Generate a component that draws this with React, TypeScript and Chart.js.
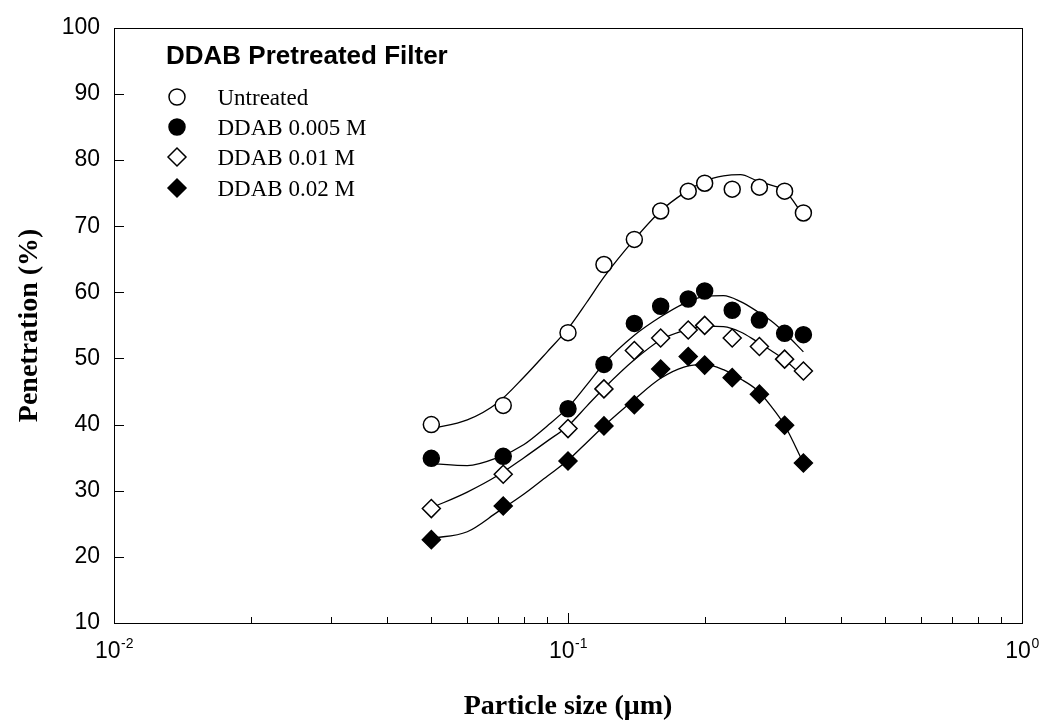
import React, { useEffect, useRef } from "react";
import { Chart, registerables } from "chart.js";

Chart.register(...registerables);

// Measured particle sizes (µm) and penetration (%)
const sizes = [0.05, 0.072, 0.1, 0.12, 0.14, 0.16, 0.184, 0.2, 0.23, 0.264, 0.3, 0.33];
const untreated = [40.0, 42.9, 53.9, 64.2, 68.0, 72.3, 75.3, 76.5, 75.6, 75.9, 75.3, 72.0];
const ddab005 = [34.9, 35.2, 42.4, 49.1, 55.3, 57.9, 59.0, 60.2, 57.3, 55.8, 53.8, 53.6];
const ddab001 = [27.3, 32.5, 39.4, 45.4, 51.2, 53.1, 54.3, 55.0, 53.1, 51.8, 49.9, 48.1];
const ddab002 = [22.6, 27.7, 34.5, 39.8, 43.0, 48.4, 50.3, 49.0, 47.1, 44.6, 39.9, 34.2];

// Fitted curves
const fitSizes = [0.05, 0.06, 0.07, 0.08, 0.09, 0.1, 0.11, 0.12, 0.14, 0.16, 0.18, 0.2, 0.22, 0.24, 0.26, 0.28, 0.3, 0.33];
const untreatedFit = [39.4, 40.7, 43.3, 47.2, 51.0, 54.5, 58.5, 62.3, 68.0, 72.3, 75.0, 76.8, 77.6, 77.8, 76.9, 76.2, 75.4, 71.6];
const ddab005Fit = [34.1, 33.8, 35.0, 37.0, 39.8, 42.6, 46.0, 49.2, 53.5, 56.3, 58.3, 59.4, 59.5, 58.6, 57.2, 55.7, 53.9, 51.0];
const ddab001Fit = [27.4, 29.8, 32.3, 35.0, 37.5, 39.8, 42.8, 45.5, 49.8, 52.8, 54.2, 54.9, 54.8, 54.0, 52.6, 51.2, 49.8, 47.2];
const ddab002Fit = [22.8, 23.8, 26.8, 29.5, 32.2, 34.6, 37.3, 39.8, 43.8, 47.0, 48.7, 49.1, 48.3, 46.9, 45.3, 42.8, 39.9, 34.2];

const seriesLabels = ["Untreated", "DDAB 0.005 M", "DDAB 0.01 M", "DDAB 0.02 M"];
const legendTitle = "DDAB Pretreated Filter";
const xTickBases = ["10", "10", "10"];
const xTickExps = ["-2", "-1", "0"];
const xTickValues = [0.01, 0.1, 1];
const yTickValues = [10, 20, 30, 40, 50, 60, 70, 80, 90, 100];

const markerStyles = [
  { shape: "circle", fill: "#ffffff" },
  { shape: "circle", fill: "#000000" },
  { shape: "diamond", fill: "#ffffff" },
  { shape: "diamond", fill: "#000000" },
];

const pts = (xs: number[], ys: number[]) => xs.map((x, i) => ({ x, y: ys[i] }));

function drawMarker(ctx: CanvasRenderingContext2D, shape: string, fill: string, x: number, y: number) {
  ctx.save();
  ctx.beginPath();
  if (shape === "circle") {
    ctx.arc(x, y, 8, 0, Math.PI * 2);
  } else {
    const r = 9;
    ctx.moveTo(x - r, y);
    ctx.lineTo(x, y - r);
    ctx.lineTo(x + r, y);
    ctx.lineTo(x, y + r);
    ctx.closePath();
  }
  ctx.fillStyle = fill;
  ctx.fill();
  ctx.lineWidth = 1.5;
  ctx.strokeStyle = "#000";
  ctx.stroke();
  ctx.restore();
}

const framePlugin = {
  id: "frameTicks",
  afterDraw(chart: any) {
    const { ctx, chartArea } = chart;
    const { left, right, top, bottom } = chartArea;
    const xs = chart.scales.x;
    const ys = chart.scales.y;
    ctx.save();
    ctx.strokeStyle = "#000";
    ctx.lineWidth = 1;
    ctx.strokeRect(Math.round(left) + 0.5, Math.round(top) + 0.5, Math.round(right - left), Math.round(bottom - top));
    ctx.beginPath();
    // y major ticks (inward)
    yTickValues.forEach((v) => {
      const py = Math.round(ys.getPixelForValue(v)) + 0.5;
      ctx.moveTo(left, py);
      ctx.lineTo(left + 10, py);
    });
    // x major & minor ticks (inward)
    [0.01, 0.1].forEach((dec) => {
      for (let m = 1; m <= 9; m++) {
        const v = dec * m;
        const px = Math.round(xs.getPixelForValue(v)) + 0.5;
        const len = m === 1 ? 10 : 6;
        ctx.moveTo(px, bottom);
        ctx.lineTo(px, bottom - len);
      }
    });
    ctx.stroke();

    // x tick labels with superscript exponents
    ctx.fillStyle = "#000";
    ctx.textBaseline = "alphabetic";
    xTickValues.forEach((v, i) => {
      const px = xs.getPixelForValue(v);
      ctx.font = "23px 'Liberation Sans', Arial, sans-serif";
      const wb = ctx.measureText(xTickBases[i]).width;
      ctx.font = "14px 'Liberation Sans', Arial, sans-serif";
      const we = ctx.measureText(xTickExps[i]).width;
      const start = px - (wb + we) / 2;
      ctx.font = "23px 'Liberation Sans', Arial, sans-serif";
      ctx.textAlign = "left";
      ctx.fillText(xTickBases[i], start, 658);
      ctx.font = "14px 'Liberation Sans', Arial, sans-serif";
      ctx.fillText(xTickExps[i], start + wb + 0.5, 648);
    });

    // legend
    ctx.font = "bold 26px 'Liberation Sans', Arial, sans-serif";
    ctx.textAlign = "left";
    ctx.textBaseline = "middle";
    ctx.fillText(legendTitle, 166, 57);
    const rows = [97, 127, 157, 188];
    seriesLabels.forEach((lab, i) => {
      drawMarker(ctx, markerStyles[i].shape, markerStyles[i].fill, 177, rows[i]);
      ctx.font = "23px 'Liberation Serif', 'Times New Roman', serif";
      ctx.textBaseline = "alphabetic";
      ctx.fillText(lab, 217.5, rows[i] + 7.6);
    });
    ctx.restore();
  },
};

export default function App() {
  const ref = useRef<HTMLCanvasElement | null>(null);

  useEffect(() => {
    document.body.style.margin = "0";
    const canvas = ref.current;
    if (!canvas) return;

    const pointSet = (i: number, ys: number[]) => ({
      label: seriesLabels[i],
      data: pts(sizes, ys),
      showLine: false,
      pointStyle: markerStyles[i].shape === "circle" ? "circle" : "rectRot",
      pointRadius: markerStyles[i].shape === "circle" ? 8 : 9,
      pointBackgroundColor: markerStyles[i].fill,
      pointBorderColor: "#000",
      pointBorderWidth: 1.5,
      order: 0,
    });
    const fitSet = (i: number, ys: number[]) => ({
      label: seriesLabels[i] + " fit",
      data: pts(fitSizes, ys),
      showLine: true,
      pointRadius: 0,
      borderColor: "#000",
      borderWidth: 1.3,
      cubicInterpolationMode: "monotone",
      fill: false,
      order: 1,
    });

    const chart = new Chart(canvas, {
      type: "scatter",
      data: {
        datasets: [
          pointSet(0, untreated),
          pointSet(1, ddab005),
          pointSet(2, ddab001),
          pointSet(3, ddab002),
          fitSet(0, untreatedFit),
          fitSet(1, ddab005Fit),
          fitSet(2, ddab001Fit),
          fitSet(3, ddab002Fit),
        ] as any,
      },
      options: {
        animation: false,
        responsive: false,
        events: [],
        layout: { padding: { left: 0, right: 22, top: 18, bottom: 0 } },
        plugins: { legend: { display: false }, tooltip: { enabled: false } },
        scales: {
          x: {
            type: "logarithmic",
            min: 0.01,
            max: 1,
            grid: { display: false, drawTicks: false },
            border: { display: false },
            ticks: { display: false },
            title: {
              display: true,
              text: "Particle size (μm)",
              color: "#000",
              font: { family: "'Liberation Serif', 'Times New Roman', serif", size: 28, weight: "bold" },
              padding: { top: 0, bottom: 3 },
            },
            afterFit: (s: any) => {
              s.height = 104;
            },
          },
          y: {
            min: 10,
            max: 100,
            grid: { display: false, drawTicks: false },
            border: { display: false },
            ticks: {
              stepSize: 10,
              color: "#000",
              padding: 14,
              font: { family: "'Liberation Sans', Arial, sans-serif", size: 23 },
            },
            title: {
              display: true,
              text: "Penetration (%)",
              color: "#000",
              font: { family: "'Liberation Serif', 'Times New Roman', serif", size: 28, weight: "bold" },
              padding: { top: 13, bottom: 0 },
            },
            afterFit: (s: any) => {
              s.width = 114;
            },
          },
        },
      } as any,
      plugins: [framePlugin],
    });

    return () => chart.destroy();
  }, []);

  return (
    <div style={{ width: 1044, height: 727 }}>
      <canvas ref={ref} width={1044} height={727} style={{ display: "block", width: 1044, height: 727 }} />
    </div>
  );
}
